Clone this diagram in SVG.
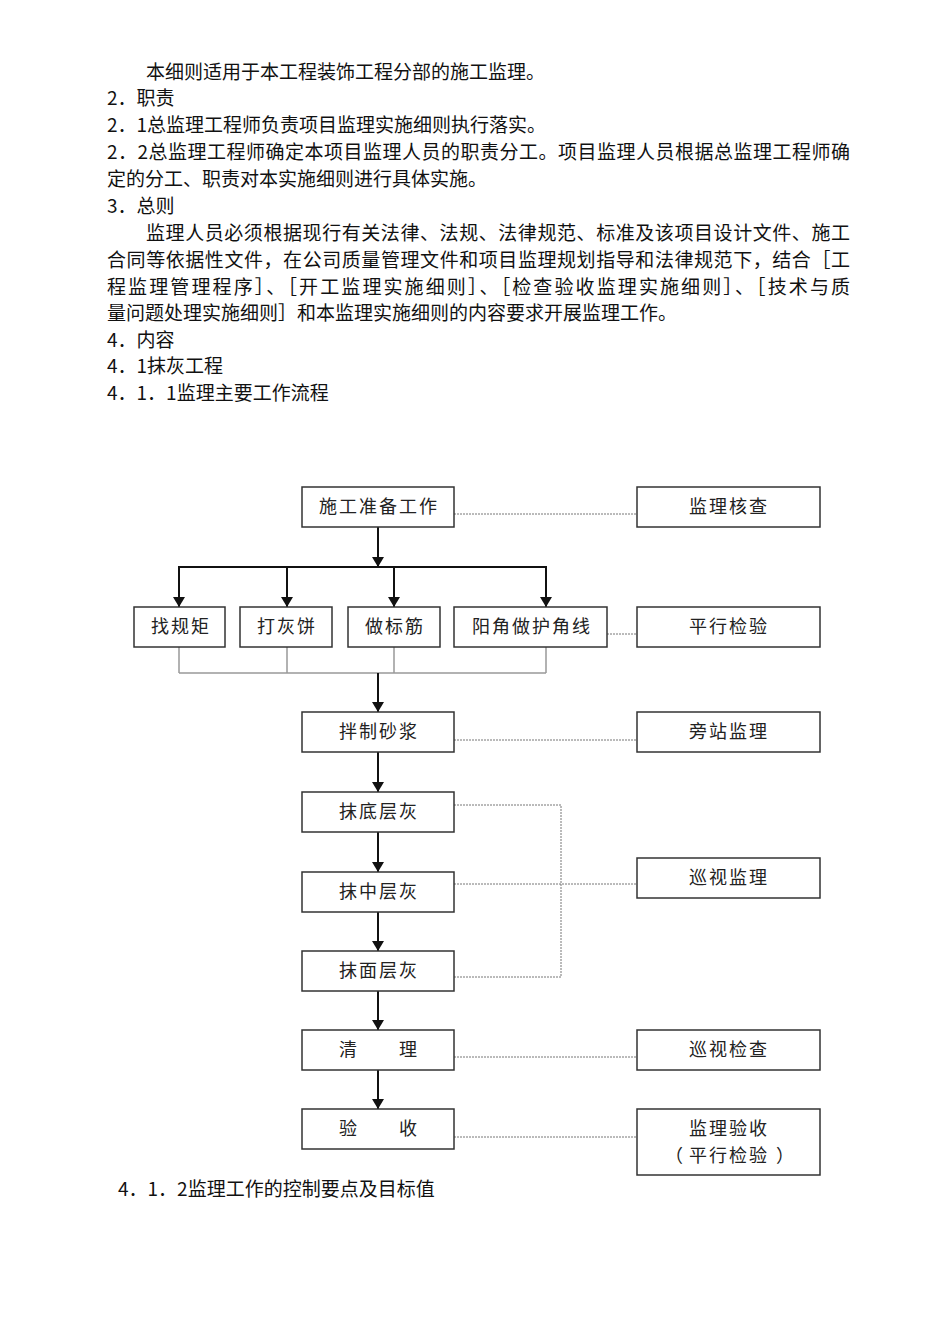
<svg xmlns="http://www.w3.org/2000/svg" width="950" height="1344" viewBox="0 0 950 1344">
<style>
.body{font-family:"Noto Sans CJK SC","Noto Sans",sans-serif;font-size:19px;fill:#111}
.box{fill:#fff;stroke:#333;stroke-width:1.5}
.lbl{font-family:"Noto Sans CJK SC","Noto Sans",sans-serif;font-size:18px;letter-spacing:2px;fill:#222;text-anchor:middle}
.arrow{stroke:#111;stroke-width:2;fill:none}
.thin{stroke:#999;stroke-width:1.5;fill:none}
.dot{stroke:#777;stroke-width:1;stroke-dasharray:2 1;fill:none}
</style>
<defs>
<marker id="ah" markerUnits="userSpaceOnUse" viewBox="0 0 10 12" refX="10" refY="6" markerWidth="10" markerHeight="12" orient="auto">
<path d="M0,0 L10,6 L0,12 z" fill="#111"/>
</marker>
</defs>
<rect width="950" height="1344" fill="#fff"/>
<g id="text">
<text class="body" x="146" y="79">本细则适用于本工程装饰工程分部的施工监理。</text>
<text class="body" x="107" y="105">2．职责</text>
<text class="body" x="107" y="132">2．1总监理工程师负责项目监理实施细则执行落实。</text>
<text class="body" x="107" y="159" textLength="743" lengthAdjust="spacing">2．2总监理工程师确定本项目监理人员的职责分工。项目监理人员根据总监理工程师确</text>
<text class="body" x="107" y="186">定的分工、职责对本实施细则进行具体实施。</text>
<text class="body" x="107" y="213">3．总则</text>
<text class="body" x="146" y="240" textLength="704" lengthAdjust="spacing">监理人员必须根据现行有关法律、法规、法律规范、标准及该项目设计文件、施工</text>
<text class="body" x="107" y="267" textLength="743" lengthAdjust="spacing">合同等依据性文件，在公司质量管理文件和项目监理规划指导和法律规范下，结合［工</text>
<text class="body" x="107" y="294" textLength="743" lengthAdjust="spacing">程监理管理程序］、［开工监理实施细则］、［检查验收监理实施细则］、［技术与质</text>
<text class="body" x="107" y="320">量问题处理实施细则］和本监理实施细则的内容要求开展监理工作。</text>
<text class="body" x="107" y="347">4．内容</text>
<text class="body" x="107" y="373">4．1抹灰工程</text>
<text class="body" x="107" y="400">4．1．1监理主要工作流程</text>
<text class="body" x="118" y="1196">4．1．2监理工作的控制要点及目标值</text>
</g>
<g id="connectors">
<line class="arrow" x1="378" y1="527" x2="378" y2="567" marker-end="url(#ah)"/>
<line class="arrow" x1="178" y1="567" x2="547" y2="567"/>
<line class="arrow" x1="179" y1="567" x2="179" y2="607" marker-end="url(#ah)"/>
<line class="arrow" x1="287" y1="567" x2="287" y2="607" marker-end="url(#ah)"/>
<line class="arrow" x1="394" y1="567" x2="394" y2="607" marker-end="url(#ah)"/>
<line class="arrow" x1="546" y1="567" x2="546" y2="607" marker-end="url(#ah)"/>
<path class="thin" d="M179,647 V673 M287,647 V673 M394,647 V673 M546,647 V673 M179,673 H546"/>
<line class="arrow" x1="378" y1="673" x2="378" y2="712" marker-end="url(#ah)"/>
<line class="arrow" x1="378" y1="752" x2="378" y2="792" marker-end="url(#ah)"/>
<line class="arrow" x1="378" y1="832" x2="378" y2="872" marker-end="url(#ah)"/>
<line class="arrow" x1="378" y1="912" x2="378" y2="951" marker-end="url(#ah)"/>
<line class="arrow" x1="378" y1="991" x2="378" y2="1030" marker-end="url(#ah)"/>
<line class="arrow" x1="378" y1="1070" x2="378" y2="1109" marker-end="url(#ah)"/>
<line class="dot" x1="454" y1="514" x2="637" y2="514"/>
<line class="dot" x1="607" y1="634" x2="637" y2="634"/>
<line class="dot" x1="454" y1="740" x2="637" y2="740"/>
<path class="dot" d="M454,805 H561 V977 H454"/>
<line class="dot" x1="454" y1="884" x2="637" y2="884"/>
<line class="dot" x1="454" y1="1057" x2="637" y2="1057"/>
<line class="dot" x1="454" y1="1137" x2="637" y2="1137"/>
</g>
<g id="n-prep"><rect class="box" x="302" y="487" width="152" height="40"/><text class="lbl" x="379" y="513">施工准备工作</text></g>
<g id="n-check"><rect class="box" x="637" y="487" width="183" height="40"/><text class="lbl" x="729" y="513">监理核查</text></g>
<g id="n-gj"><rect class="box" x="134" y="607" width="91" height="40"/><text class="lbl" x="181" y="633">找规矩</text></g>
<g id="n-hb"><rect class="box" x="240" y="607" width="92" height="40"/><text class="lbl" x="287" y="633">打灰饼</text></g>
<g id="n-bj"><rect class="box" x="348" y="607" width="92" height="40"/><text class="lbl" x="395" y="633">做标筋</text></g>
<g id="n-yj"><rect class="box" x="454" y="607" width="153" height="40"/><text class="lbl" x="532" y="633">阳角做护角线</text></g>
<g id="n-pxjy"><rect class="box" x="637" y="607" width="183" height="40"/><text class="lbl" x="729" y="633">平行检验</text></g>
<g id="n-bz"><rect class="box" x="302" y="712" width="152" height="40"/><text class="lbl" x="379" y="738">拌制砂浆</text></g>
<g id="n-pz"><rect class="box" x="637" y="712" width="183" height="40"/><text class="lbl" x="729" y="738">旁站监理</text></g>
<g id="n-dc"><rect class="box" x="302" y="792" width="152" height="40"/><text class="lbl" x="379" y="818">抹底层灰</text></g>
<g id="n-zc"><rect class="box" x="302" y="872" width="152" height="40"/><text class="lbl" x="379" y="898">抹中层灰</text></g>
<g id="n-xs"><rect class="box" x="637" y="858" width="183" height="40"/><text class="lbl" x="729" y="884">巡视监理</text></g>
<g id="n-mc"><rect class="box" x="302" y="951" width="152" height="40"/><text class="lbl" x="379" y="977">抹面层灰</text></g>
<g id="n-ql"><rect class="box" x="302" y="1030" width="152" height="40"/><text class="lbl" x="379" y="1056">清　　理</text></g>
<g id="n-xsjc"><rect class="box" x="637" y="1030" width="183" height="40"/><text class="lbl" x="729" y="1056">巡视检查</text></g>
<g id="n-ys"><rect class="box" x="302" y="1109" width="152" height="40"/><text class="lbl" x="379" y="1135">验　　收</text></g>
<g id="n-jlys"><rect class="box" x="637" y="1109" width="183" height="66"/><text class="lbl" x="729" y="1135">监理验收</text><text class="lbl" y="1162" style="text-anchor:start"><tspan x="665">（</tspan><tspan x="689">平行检验</tspan><tspan x="776">）</tspan></text></g>
</svg>
